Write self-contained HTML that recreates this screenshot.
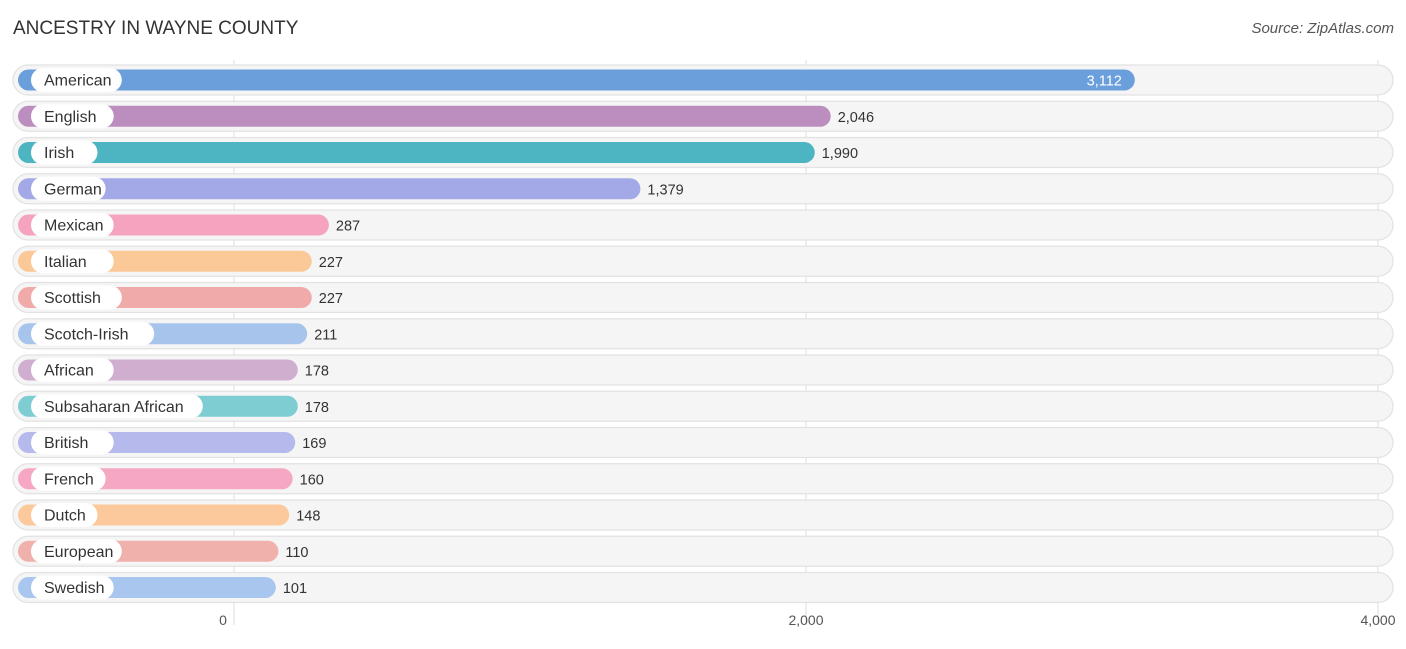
<!DOCTYPE html>
<html><head><meta charset="utf-8"><style>
body{margin:0;background:#fff;font-family:"Liberation Sans",sans-serif;}
svg text{font-family:"Liberation Sans",sans-serif;}
</style></head><body>
<svg id="c" width="1406" height="644">
<text x="13" y="34" font-size="19" fill="#333">ANCESTRY IN WAYNE COUNTY</text>
<text x="1394" y="33" font-size="15" fill="#555" text-anchor="end" font-style="italic">Source: ZipAtlas.com</text>
<g id="grid"></g><g id="rows"></g><g id="ticks"></g>
</svg>
<script>
const categories=["American","English","Irish","German","Mexican","Italian","Scottish","Scotch-Irish","African","Subsaharan African","British","French","Dutch","European","Swedish"];
const values=[3112,2046,1990,1379,287,227,227,211,178,178,169,160,148,110,101];
const colors=["#6a9fdc","#bb8ebf","#4db5c1","#a3a9e6","#f5a3bf","#fbc897","#f0aaaa","#a7c5ec","#cfaed0","#7dcdd3","#b5b9eb","#f6a7c3","#fbc99b","#f0b0ab","#a9c6ee"];
const tickVals=[0,2000,4000];
const tickLabels=["0","2,000","4,000"];
const NS="http://www.w3.org/2000/svg";
function mk(t,a,p){const e=document.createElementNS(NS,t);for(const k in a)e.setAttribute(k,a[k]);p.appendChild(e);return e;}
const gx=v=>234+v*0.286;          // gridline axis
const bx=v=>247+v*0.2853;         // bar end
const yc=i=>80+i*36.25;
const grid=document.getElementById('grid'),rows=document.getElementById('rows'),ticks=document.getElementById('ticks');
tickVals.forEach((v,i)=>{
  const l=mk('line',{x1:gx(v),x2:gx(v),y1:60,y2:625,stroke:'#ddd','stroke-width':1},grid);
  
  
  const t=mk('text',{x:gx(v)-(i==0?11:0),y:625,'font-size':14,fill:'#555','text-anchor':'middle'},ticks);
  t.textContent=tickLabels[i];
  
  
});
categories.forEach((c,i)=>{
  const y=yc(i);
  const g=mk('g',{},rows);
  
  
  mk('rect',{x:13,y:y-15,width:1380,height:30,rx:15,fill:'#f5f5f5',stroke:'#e2e2e2','stroke-width':1.2},g);
  const end=bx(values[i]);
  const b=mk('rect',{x:18,y:y-10.5,width:end-18,height:21,rx:10.5,fill:colors[i]},g);
  
  
  const lw=c.length*8.1+26;
  mk('rect',{x:31,y:y-12,width:lw,height:24,rx:12,fill:'#fff'},g);
  const lt=mk('text',{x:44,y:y+5.5,'font-size':16,fill:'#333'},g);
  lt.textContent=c;
  
  
  const inside=i==0;
  const vt=mk('text',{x:inside?end-13:end+7,y:y+5.5,'font-size':14.5,fill:inside?'#fff':'#333','text-anchor':inside?'end':'start'},g);
  vt.textContent=values[i].toLocaleString('en-US');
  
  
});
</script>
</body></html>
